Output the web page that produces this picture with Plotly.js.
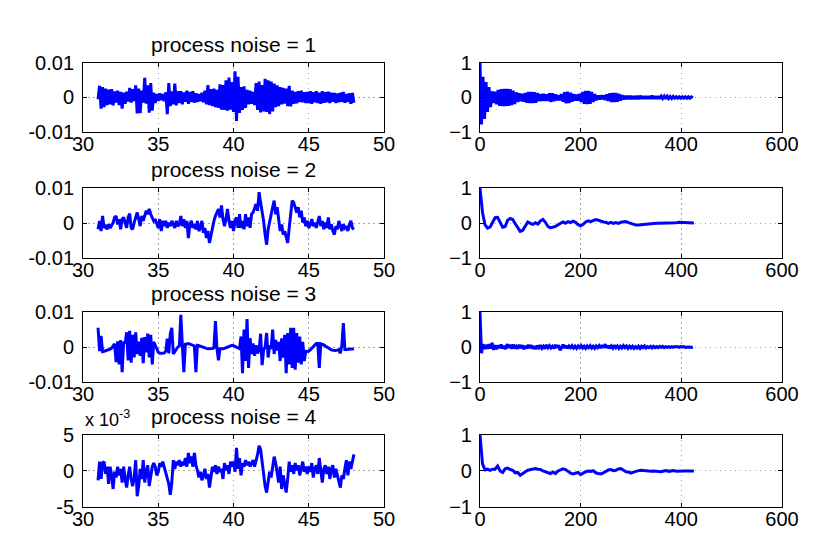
<!DOCTYPE html>
<html>
<head>
<meta charset="utf-8">
<script src="https://cdn.plot.ly/plotly-3.0.1.min.js"></script>
<style>html,body{margin:0;padding:0;background:#fff;}#plot{width:831px;height:553px;}</style>
</head>
<body>
<div id="plot"></div>
<script>
// ---------- DATA ----------
// Left column: time axis 31.0 .. 48.0, sample step 0.1 ; values in units of 1e-3
const timeStart = 31.0;
const timeStep = 0.1;
const titles = ['process noise = 1', 'process noise = 2', 'process noise = 3', 'process noise = 4'];

const noise1 = [
 -0.5, 3.4, -3.2, 3.0, -2.8,   2.6, -2.2, 2.3, -2.0, 2.4,
 -2.3, 1.8, -1.5, 2.0, -2.2,   1.6, -3.2, 1.4, -1.8, 1.7,
 -1.2, 2.8, -1.5, 2.4, -1.0,   3.5, -4.6, 2.6, -4.5, 2.0,
 -1.5, 5.7, -1.8, 3.5, -4.4,   4.2, -3.8, 1.4, -1.6, 1.0,
 -1.0, 1.2, -0.8, 1.0, -1.1,   1.5, -4.8, 4.2, -2.5, 1.8,
 -2.0, 4.0, -2.3, 1.8, -1.6,   1.8, -2.0, 1.5, -1.2, 2.0,
 -1.8, 1.6, -1.3, 1.8, -1.5,   1.2, -1.3, 1.0, -1.1, 1.4,
 -1.4, 2.0, -2.0, 3.6, -2.2,   2.4, -2.5, 2.6, -2.8, 2.2,
 -3.0, 3.8, -3.5, 3.6, -3.6,   5.0, -3.8, 5.8, -3.5, 4.5,
 -4.2, 7.6, -6.8, 6.0, -4.5,   3.0, -3.6, 3.2, -3.0, 2.2,
 -2.0, 2.0, -1.8, 1.6, -2.2,   4.2, -3.6, 4.6, -4.3, 3.6,
 -4.0, 5.4, -4.2, 5.0, -4.8,   4.6, -4.0, 4.0, -2.8, 3.5,
 -2.5, 3.0, -2.0, 2.8, -1.8,   2.6, -2.5, 3.4, -2.6, 2.0,
 -1.8, 1.6, -1.7, 1.8, -1.3,   2.0, -1.4, 1.5, -1.6, 1.6,
 -1.6, 1.8, -1.8, 1.5, -1.4,   1.8, -1.6, 1.4, -1.8, 1.8,
 -1.5, 1.5, -1.4, 1.7, -1.6,   1.4, -1.2, 1.3, -1.6, 1.2,
 -1.4, 1.4, -1.2, 1.6, -1.5,   1.0, -1.3, 1.2, -1.8, 1.3,
 -1.5
];

const noise2 = [
 -1.8, 0.6, -2.3, 2.0, -1.4,   -0.9, -1.8, -0.4, -1.4, -0.6,
 0.1, 1.6, 2.0, -0.4, 1.1,     -1.8, 1.1, 1.6, -0.4, -1.4,
 1.6, 2.7, -1.4, -1.8, 0.1,    2.0, 3.0, 1.1, -0.9, 2.0,
 0.6, 2.0, 3.5, 2.5, 4.0,      2.5, 1.6, 0.6, 1.1, -0.4,
 -1.4, 1.1, -2.3, 0.6, -0.9,   0.6, -1.4, 0.1, -0.9, 0.6,
 -0.4, -1.4, 0.6, -0.9, -0.4,  2.0, -0.9, 1.1, -1.4, 0.6,
 -4.3, -0.4, 0.6, -1.4, -0.4,  -1.8, 0.6, -2.3, -1.4, 0.6,
 -2.8, -1.4, -4.3, -2.3, -5.7, -3.3, -1.8, 0.6, 2.0, 3.0,
 4.0, 1.6, 5.0, 1.1, -0.9,     1.1, 4.0, 0.6, -1.4, 0.6,
 -2.3, 0.6, 1.6, -1.4, 2.5,    -1.4, 0.6, -1.8, 2.5, -0.9,
 1.6, -1.4, 2.5, 3.0, 4.5,     5.4, 3.5, 8.8, 5.9, 3.5,
 0.6, -3.3, -6.2, -1.8, 0.6,   2.5, 4.5, 6.4, 2.5, 4.5,
 0.6, -2.3, -0.4, -3.3, -2.3,  -4.3, -5.7, -1.4, 2.5, 6.4,
 5.9, 4.0, 3.0, 4.5, 1.6,      3.5, 0.1, 1.6, -0.9, 0.6,
 -1.4, -0.4, 1.1, -0.9, 0.1,   -1.4, 0.6, 2.0, -0.9, 0.6,
 -1.8, 0.1, -1.4, 1.6, -1.8,   -0.4, -2.3, -3.3, -0.9, -1.8,
 0.6, -0.9, -2.3, -0.4, -1.4,  -0.9, -2.3, -0.4, 0.6, -1.4,
 -1.8
];

const noise3 = [
 5.5, -1.2, 3.2, -1.3, -1.2,   -1.1, -1.0, -0.8, -0.6, -0.3,
 0.2, 0.9, -4.3, 1.6, -5.0,    2.0, -7.2, 1.5, 1.0, 4.2,
 -3.8, 4.6, -4.5, 3.5, -3.0,   4.2, -2.0, 1.5, -2.5, 2.6,
 -4.6, 2.8, -1.5, 3.8, -3.0,   3.5, -5.0, 1.5, 0.5, -0.8,
 -1.5, -1.8, -1.9, -1.8, -1.7, -1.2, 2.4, -1.8, 3.8, 5.5,
 -2.0, -1.2, -0.5, 0.0, 0.3,   9.2, 0.5, -7.2, 0.8, 1.0,
 1.0, 0.8, 0.6, 0.4, 0.3,      -7.2, 0.5, 0.4, 0.2, 0.0,
 -0.2, -0.3, -0.4, -0.5, -0.5, -0.5, -0.4, -0.2, 7.4, -0.3,
 -3.8, -0.5, -0.6, -0.5, -0.4, -0.2, 0.1, 0.3, 0.4, 0.5,
 0.4, 0.2, 0.0, -0.3, -0.5,    3.0, -7.5, 5.0, -4.0, 8.0,
 -6.0, 2.5, -2.0, 1.0, -2.5,   0.5, -1.8, -0.8, 3.8, -5.2,
 -0.8, 0.0, 4.0, -3.0, 0.5,    -0.5, 5.0, -2.0, 2.0, -1.0,
 1.5, -4.0, 2.5, -3.0, 3.5,    -7.5, 4.0, -5.0, 5.5, -6.0,
 5.5, -6.5, 4.0, -4.5, 3.0,    -5.0, 1.5, -4.0, -1.2, -1.3,
 -1.2, -0.8, -0.3, 0.3, 0.7,   1.0, 1.0, -6.0, 0.9, 0.8,
 0.6, 0.3, 0.0, -0.3, -0.6,    -0.8, -0.9, -1.0, -1.0, -0.9,
 -0.8, -1.8, 0.5, 6.8, -0.7,   -0.7, -0.6, -0.6, -0.6, -0.6,
 -0.5
];

const noise4 = [
 -1.3, 1.3, -1.1, 1.1, 1.3,    -0.4, 0.6, -1.8, 0.6, -0.6,
 -2.5, -0.1, -0.9, 0.6, -0.6,  0.3, -1.6, 0.6, -1.1, -2.3,
 -0.6, 0.6, -1.1, -2.1, -0.9,  1.5, -3.5, -2.1, 0.3, -1.1,
 1.5, -1.6, -0.1, 0.8, -2.1,   -0.4, 0.6, 1.1, 0.6, -0.6,
 -0.1, 1.1, 0.6, 1.3, 0.6,     -0.1, -0.9, -1.8, -3.3, -1.6,
 1.5, 0.3, 1.3, 0.8, 1.5,      0.6, 1.3, 0.8, 1.8, 0.6,
 2.5, 1.1, 2.0, 0.6, 2.5,      0.8, 0.1, -0.9, -0.1, -1.3,
 -0.6, 0.3, -1.1, -0.4, -2.3,  -0.6, 0.6, -0.1, 0.8, -0.4,
 0.6, -0.1, 0.3, -1.1, 1.1,    0.1, 0.8, -0.4, 1.3, 0.6,
 1.3, -0.1, 3.2, 0.3, 1.8,     -0.6, 1.1, 0.6, 1.5, 0.8,
 1.3, 0.6, 1.1, 1.5, 0.6,      1.3, 2.3, 3.5, 3.0, 1.3,
 -0.9, -2.1, -3.0, -1.6, -0.1, -0.9, 0.6, 2.0, 1.1, -0.1,
 -1.6, 0.6, -2.5, -0.6, -2.1,  -3.0, -1.1, 1.3, -0.1, 0.8,
 -0.4, 1.1, 0.1, 0.8, -0.6,    0.6, 1.3, -0.1, 0.6, -0.4,
 0.6, -0.1, 1.1, -0.9, 0.3,    0.8, -0.4, 1.8, -0.1, -1.6,
 0.3, 0.8, -0.4, 0.6, -1.1,    0.3, 0.8, -0.9, 0.3, -0.6,
 -1.6, -2.3, -0.6, -1.1, 0.3,  1.5, -0.6, 1.3, 0.3, 1.5,
 2.3
];

// Right column: lag axis, values are correlation coefficients
const lagStep1 = 3;
const corr1 = [
 1.0, -0.78, 0.6, -0.62, 0.45, -0.42, 0.3, -0.28, 0.18, -0.16,
 0.17, -0.2, 0.22, -0.24, 0.24, -0.25, 0.25, -0.25, 0.25, -0.24,
 0.24, -0.22, 0.2, -0.19, 0.15, -0.13, 0.12, -0.11, 0.11, -0.12,
 0.13, -0.15, 0.16, -0.16, 0.16, -0.16, 0.15, -0.15, 0.13, -0.11,
 0.1, -0.1, 0.11, -0.1, 0.09, -0.1, 0.12, -0.13, 0.12, -0.11,
 0.09, -0.08, 0.07, -0.08, 0.1, -0.12, 0.15, -0.17, 0.17, -0.16,
 0.14, -0.12, 0.1, -0.09, 0.08, -0.09, 0.11, -0.13, 0.16, -0.18,
 0.19, -0.19, 0.19, -0.18, 0.16, -0.13, 0.1, -0.08, 0.06, -0.06,
 0.06, -0.05, 0.06, -0.07, 0.09, -0.1, 0.12, -0.13, 0.13, -0.13,
 0.13, -0.12, 0.11, -0.09, 0.07, -0.06, 0.05, -0.05, 0.05, -0.05,
 0.05, -0.05, 0.04, -0.05, 0.05, -0.05, 0.05, -0.04, 0.04, -0.04,
 0.04, -0.04, 0.04, -0.04, 0.05, -0.04, 0.04, -0.04, 0.04, -0.04,
 0.04, -0.03, 0.04, -0.04, 0.04, -0.03, 0.03, -0.03, 0.03, -0.02,
 0.02, -0.02, 0.02, -0.02, 0.02, -0.02, 0.02, -0.02, 0.02, -0.02,
 0.02, -0.01
];

const lagStep2 = 5;
const corr2 = [
 1.0, 0.3, -0.05, -0.15, -0.12, 0.0, 0.15, 0.16, 0.04, -0.12,
 -0.1, 0.08, 0.13, 0.1, -0.02, -0.15, -0.24, -0.21, -0.08, 0.03,
 -0.01, -0.04, 0.01, -0.03, 0.06, 0.1, 0.02, -0.1, -0.14, -0.13,
 -0.1, -0.05, -0.01, 0.03, -0.01, 0.04, 0.01, 0.05, 0.02, -0.05,
 -0.08, -0.04, 0.03, 0.06, 0.04, 0.07, 0.1, 0.08, 0.05, 0.03,
 0.02, -0.01, 0.02, -0.01, 0.01, -0.01, 0.02, 0.04, 0.04, 0.01,
 -0.02, -0.05, -0.06, -0.06, -0.05, -0.04, -0.03, -0.03, -0.02, -0.02,
 -0.01, -0.01, -0.01, 0.0, 0.0, 0.01, 0.01, 0.01, 0.01, 0.02,
 0.02, 0.02, 0.01, 0.01, 0.01, 0.0
];

const lagStep3 = 3;
const corr3 = [
 1.0, -0.18, 0.08, -0.06, 0.06, -0.05, 0.08, -0.04, 0.12, -0.08,
 0.05, -0.06, 0.04, -0.03, 0.07, -0.04, 0.03, -0.06, 0.08, -0.02,
 0.06, -0.05, 0.07, -0.04, 0.02, -0.05, 0.06, -0.03, 0.05, -0.06,
 0.03, -0.04, 0.06, -0.03, 0.05, -0.05, 0.02, -0.06, 0.04, -0.02,
 0.05, -0.04, 0.02, -0.05, 0.06, -0.02, 0.04, -0.03, 0.02, -0.04,
 0.06, -0.02, 0.05, -0.09, -0.02, 0.07, -0.03, 0.04, -0.04, 0.03,
 -0.02, 0.04, -0.03, 0.02, -0.04, 0.03, -0.02, 0.04, -0.03, 0.02,
 -0.04, 0.03, -0.02, 0.04, -0.03, 0.02, -0.04, 0.03, -0.02, 0.04,
 -0.03, 0.05, -0.02, 0.08, -0.03, 0.04, -0.04, 0.03, -0.03, 0.05,
 -0.02, 0.03, -0.04, 0.02, -0.03, 0.04, -0.02, 0.03, -0.04, 0.02,
 -0.03, 0.02, -0.04, 0.01, -0.03, 0.02, -0.04, 0.02, -0.02, 0.03,
 -0.03, 0.01, -0.02, 0.02, -0.03, 0.02, -0.02, 0.01, -0.02, 0.02,
 -0.01, 0.02, -0.02, 0.01, -0.01, 0.01, -0.01, 0.01, -0.01, 0.01,
 0.0, 0.01, -0.01, 0.01, 0.0, 0.01, -0.01, 0.0, 0.01, 0.0,
 -0.01, 0.0
];

const lagStep4 = 5;
const corr4 = [
 1.0, 0.2, 0.03, 0.05, 0.02, 0.05, 0.05, 0.14, 0.0, -0.04,
 0.06, 0.08, 0.04, 0.02, -0.05, -0.04, -0.12, -0.06, -0.02, 0.02,
 0.03, 0.05, 0.07, 0.05, 0.04, 0.0, -0.03, -0.05, -0.07, -0.03,
 -0.07, 0.0, 0.02, 0.06, 0.04, -0.02, -0.06, -0.08, -0.07, -0.04,
 -0.1, -0.05, -0.02, 0.0, -0.01, 0.01, -0.05, -0.07, -0.08, -0.05,
 -0.01, 0.03, 0.04, 0.01, 0.02, 0.06, 0.07, 0.02, -0.02, -0.03,
 -0.06, -0.03, 0.0, 0.01, 0.02, 0.01, 0.02, 0.01, -0.01, 0.0,
 -0.01, 0.0, -0.02, 0.0, 0.01, -0.01, 0.0, 0.01, -0.01, 0.0,
 0.01, 0.0, 0.0, 0.01, 0.0, 0.0
];

const leftXTicks = [30, 35, 40, 45, 50];
const leftYTicks = [-10, 0, 10];
const leftYText = ['-0.01', '0', '0.01'];
const left4YTicks = [-5, 0, 5];
const left4YText = ['-5', '0', '5'];
const rightXTicks = [0, 200, 400, 600];
const rightYTicks = [-1, 0, 1];
const exponentLabel = 'x 10<sup>-3</sup>';

// ---------- BUILD ----------
const leftSeries = [noise1, noise2, noise3, noise4];
const rightSeries = [[corr1, lagStep1], [corr2, lagStep2], [corr3, lagStep3], [corr4, lagStep4]];

const colX = [[0.0999, 0.4621], [0.5776, 0.9410]];
const rowY = [[0.7613, 0.8861], [0.5335, 0.6600], [0.3092, 0.4358], [0.0832, 0.2134]];

const FONT = 'Liberation Sans, Arial, Helvetica, sans-serif';
const BLUE = '#0000ff';

const baseAxis = {
  showline: true, linecolor: '#000', linewidth: 1, mirror: 'ticks',
  ticks: 'inside', ticklen: 4, tickcolor: '#000', tickwidth: 1,
  showgrid: true, gridcolor: '#a6a6a6', griddash: '1.5px,3.5px', gridwidth: 1,
  zeroline: false, fixedrange: true,
  tickfont: {family: FONT, size: 20, color: '#000'}
};

const data = [];
const layout = {
  width: 831, height: 553,
  margin: {l: 0, r: 0, t: 0, b: 0},
  paper_bgcolor: '#fff', plot_bgcolor: '#fff',
  showlegend: false,
  font: {family: FONT, color: '#000'},
  annotations: []
};

for (let r = 0; r < 4; r++) {
  const li = 2 * r + 1, ri = 2 * r + 2;
  const s = leftSeries[r];
  const tx = s.map((_, i) => timeStart + i * timeStep);
  data.push({x: tx, y: s, type: 'scatter', mode: 'lines',
    line: {color: BLUE, width: 3}, xaxis: 'x' + li, yaxis: 'y' + li, hoverinfo: 'skip'});
  const [cv, st] = rightSeries[r];
  const lx = cv.map((_, i) => i * st);
  data.push({x: lx, y: cv, type: 'scatter', mode: 'lines',
    line: {color: BLUE, width: 3}, xaxis: 'x' + ri, yaxis: 'y' + ri, hoverinfo: 'skip'});

  const lxName = li === 1 ? 'xaxis' : 'xaxis' + li;
  const lyName = li === 1 ? 'yaxis' : 'yaxis' + li;
  layout[lxName] = Object.assign({}, baseAxis, {
    domain: colX[0], anchor: 'y' + li, range: [30, 50],
    tickvals: leftXTicks, ticklabelstandoff: -6
  });
  layout[lyName] = Object.assign({}, baseAxis, {
    domain: rowY[r], anchor: 'x' + li,
    range: r === 3 ? [-5, 5] : [-10, 10],
    tickvals: r === 3 ? left4YTicks : leftYTicks,
    ticktext: r === 3 ? left4YText : leftYText,
    ticklabelstandoff: 4
  });
  layout['xaxis' + ri] = Object.assign({}, baseAxis, {
    domain: colX[1], anchor: 'y' + ri, range: [0, 600],
    tickvals: rightXTicks, ticklabelstandoff: -6
  });
  layout['yaxis' + ri] = Object.assign({}, baseAxis, {
    domain: rowY[r], anchor: 'x' + ri, range: [-1, 1],
    tickvals: rightYTicks, ticklabelstandoff: 3
  });

  layout.annotations.push({
    text: titles[r], xref: 'paper', yref: 'paper',
    x: (colX[0][0] + colX[0][1]) / 2, y: rowY[r][1],
    xanchor: 'center', yanchor: 'bottom', yshift: 5, showarrow: false,
    font: {family: FONT, size: 21, color: '#000'}
  });
}

layout.annotations.push({
  text: exponentLabel, xref: 'paper', yref: 'paper',
  x: colX[0][0], y: rowY[3][1], xanchor: 'left', yanchor: 'bottom',
  yshift: 3, showarrow: false,
  font: {family: FONT, size: 18, color: '#000'}
});

Plotly.newPlot('plot', data, layout, {staticPlot: true, displayModeBar: false});
</script>
</body>
</html>
